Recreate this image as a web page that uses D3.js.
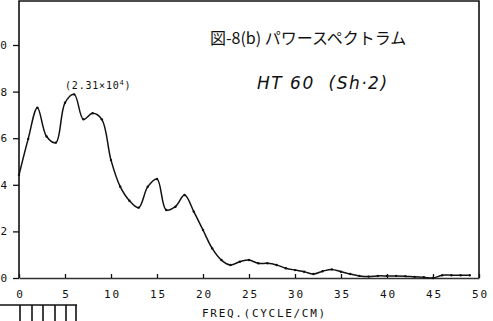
<!DOCTYPE html>
<html>
<head>
<meta charset="utf-8">
<script src="https://cdn.jsdelivr.net/npm/d3@7"></script>
<style>
  body { margin: 0; background: #fff; overflow: hidden; }
  svg { display: block; }
  .tick text { font-family: "DejaVu Sans Mono", monospace; font-size: 11px; fill: #111; }
  .x-ax .tick text { letter-spacing: 2px; }
</style>
</head>
<body>
<div id="chart"></div>
<script>
// power spectrum
const freq = [0, 1, 2, 3, 4, 5, 6, 7, 8, 9, 10, 11, 12, 13, 14, 15, 16, 17, 18, 19, 20,
  21, 22, 23, 24, 25, 26, 27, 28, 29, 30, 31, 32, 33, 34, 35, 36, 37, 38, 39, 40,
  41, 42, 43, 44, 45, 46, 47, 48, 49];
const power = [4.42, 5.97, 7.31, 6.07, 5.81, 7.52, 7.88, 6.81, 7.07, 6.81, 5.06,
  3.92, 3.32, 3.02, 3.92, 4.25, 2.92, 3.06, 3.56, 2.85, 2.06,
  1.27, 0.77, 0.56, 0.70, 0.77, 0.63, 0.63, 0.56, 0.42, 0.34,
  0.27, 0.17, 0.29, 0.37, 0.27, 0.17, 0.09, 0.06, 0.09, 0.09,
  0.09, 0.08, 0.05, 0.03, 0.0, 0.12, 0.12, 0.12, 0.12];
const xTicks = [0, 5, 10, 15, 20, 25, 30, 35, 40, 45, 50];
const yTicks = [0, 2, 4, 6, 8, 10];

const width = 493, height = 321;
const margin = { top: 1, right: 14, bottom: 43, left: 19 };

const svg = d3.select('#chart')
  .append('svg')
  .attr('width', width)
  .attr('height', height);

const x = d3.scaleLinear().domain([0, 50]).range([margin.left, width - margin.right]);
const y = d3.scaleLinear().domain([0, 10]).range([height - margin.bottom, 45]);

// frame
svg.append('path')
  .attr('d', `M${x(0)},${y(0)}V${margin.top}H${x(50)}V${y(0)}`)
  .attr('fill', 'none')
  .attr('stroke', '#111')
  .attr('stroke-width', 1.6);

const xAxis = d3.axisBottom(x).tickValues(xTicks).tickSizeInner(-4).tickSizeOuter(0).tickPadding(12);
svg.append('g')
  .attr('class', 'x-ax')
  .attr('transform', `translate(0,${y(0)})`)
  .call(xAxis)
  .call(g => g.select('.domain').attr('stroke', '#333').attr('stroke-width', 1.3))
  .call(g => g.selectAll('.tick text').attr('dx', 1));

const yAxis = d3.axisLeft(y).tickValues(yTicks).tickSize(6).tickPadding(6);
svg.append('g')
  .attr('transform', `translate(${x(0)},0)`)
  .call(yAxis)
  .call(g => g.select('.domain').remove());

svg.selectAll('.tick line').attr('stroke', '#111').attr('stroke-width', 1.3);

// curve
const pts = freq.map((f, i) => [f, power[i]]);
const line = d3.line()
  .x(d => x(d[0]))
  .y(d => y(d[1]))
  .curve(d3.curveCatmullRom.alpha(0.5));

svg.append('path')
  .datum(pts)
  .attr('d', line)
  .attr('fill', 'none')
  .attr('stroke', '#111')
  .attr('stroke-width', 1.5);

svg.append('g')
  .selectAll('circle')
  .data(pts)
  .enter()
  .append('circle')
  .attr('cx', d => x(d[0]))
  .attr('cy', d => y(d[1]))
  .attr('r', 1.2)
  .attr('fill', '#111');

// texts
svg.append('text')
  .attr('x', 210).attr('y', 44)
  .style('font-family', '"Noto Sans CJK JP", sans-serif')
  .style('font-size', '16px')
  .attr('fill', '#111')
  .text('図-8(b) パワースペクトラム');

svg.append('text')
  .attr('x', 257).attr('y', 89)
  .style('font-family', '"DejaVu Sans", sans-serif')
  .style('font-size', '17px')
  .style('font-style', 'italic')
  .style('letter-spacing', '1.5px')
  .style('white-space', 'pre')
  .attr('fill', '#111')
  .text('HT 60  (Sh·2)');

const ann = svg.append('text')
  .attr('x', 65).attr('y', 89)
  .style('font-family', '"DejaVu Sans Mono", monospace')
  .style('font-size', '10px')
  .style('letter-spacing', '0.8px')
  .attr('fill', '#111')
  .text('(2.31×10');
ann.append('tspan').attr('dy', -4).style('font-size', '7px').text('4');
ann.append('tspan').attr('dy', 4).text(')');

svg.append('text')
  .attr('x', 202).attr('y', 317)
  .style('font-family', '"DejaVu Sans Mono", monospace')
  .style('font-size', '11px')
  .style('letter-spacing', '1.7px')
  .attr('fill', '#111')
  .text('FREQ.(CYCLE/CM)');

// scale bar remnant, bottom left
const ruler = svg.append('g').attr('stroke', '#111').attr('stroke-width', 1.6);
ruler.append('line').attr('x1', 0).attr('x2', 77).attr('y1', 305).attr('y2', 305);
[20, 32, 43, 55, 66, 76].forEach(px => {
  ruler.append('line').attr('x1', px).attr('x2', px).attr('y1', 305).attr('y2', 321);
});
</script>
</body>
</html>
